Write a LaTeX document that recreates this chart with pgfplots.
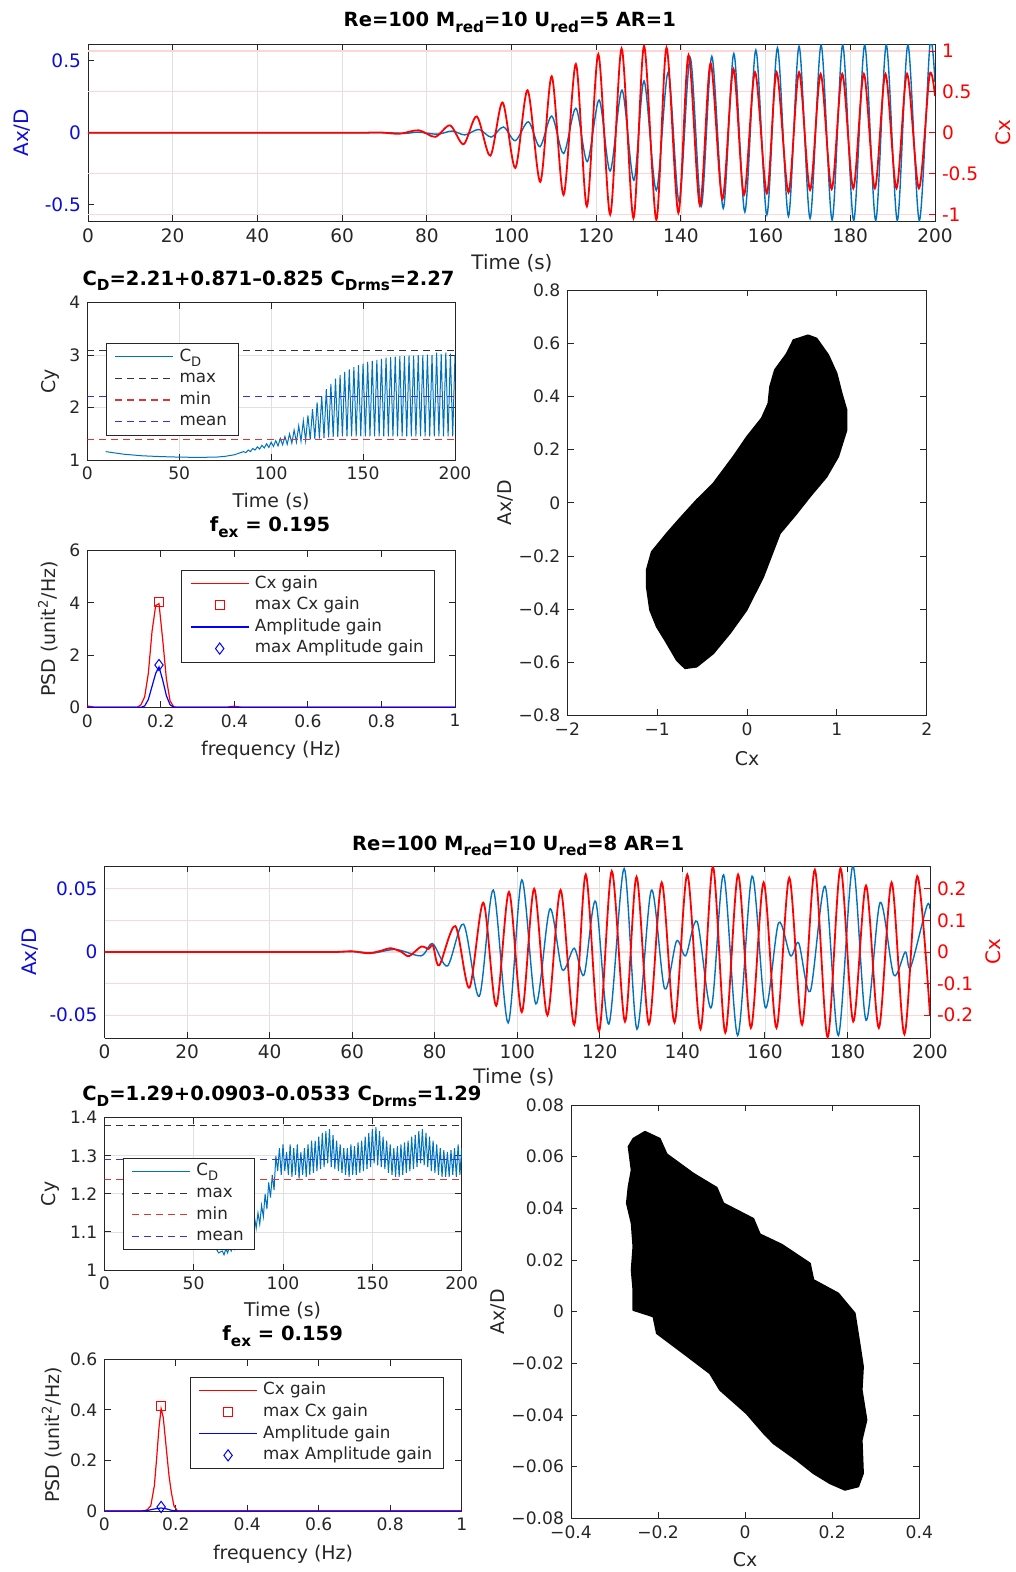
\documentclass[border=0pt]{standalone}
\usepackage{fontspec}
\setmainfont{DejaVu Sans}
\usepackage{graphicx}
\usepackage{pgfplots}
\pgfplotsset{compat=1.18}
\definecolor{mblue}{rgb}{0,0.447,0.741}
\definecolor{axgray}{rgb}{0.15,0.15,0.15}
\definecolor{lblue}{rgb}{0.05,0.05,0.85}
\definecolor{dred}{rgb}{0.9,0.2,0.2}
\definecolor{dblue}{rgb}{0.2,0.2,0.9}
\definecolor{dblack}{rgb}{0.2,0.2,0.2}
\newcommand{\msub}[1]{\raisebox{-0.55ex}{\scalebox{0.78}{#1}}}
\pgfplotsset{
  base/.style={scale only axis, anchor=south west,
    axis line style={axgray, line width=0.45bp},
    tick style={axgray, line width=0.45bp},
    major tick length=3.2bp, tick align=inside,
    scaled ticks=false,
    every axis title shift=0pt,
    /pgf/number format/assume math mode=true,
    legend cell align=left},
  topax/.style={base,
    tick label style={font=\fontsize{9.3}{10}\selectfont, text=axgray},
    label style={font=\fontsize{10}{11}\selectfont},
    title style={font=\bfseries\fontsize{9.8}{11}\selectfont, anchor=base}},
  low/.style={base,
    tick label style={font=\fontsize{8.6}{9}\selectfont, text=axgray},
    label style={font=\fontsize{9.5}{10}\selectfont, text=axgray},
    title style={font=\bfseries\fontsize{9.8}{11}\selectfont, anchor=base},
    legend style={draw=axgray, line width=0.4bp, fill=white,
      font=\fontsize{8.4}{9}\selectfont, inner xsep=4.2bp, inner ysep=1.3bp,
      column sep=1.5bp,
      nodes={inner sep=1.25bp, text height=6.3bp, text depth=2bp, text=axgray}}},
  lline/.style={legend image code/.code={\draw[##1] (0bp,0bp) -- (29bp,0bp);}},
  lmark/.style={legend image code/.code={\draw[##1] plot coordinates {(14.5bp,0bp)};}},
}
\begin{document}
\begin{tikzpicture}
\path[use as bounding box] (0bp,0bp) rectangle (508bp,-786bp);

%================ BLOCK 1 =================
\begin{axis}[topax, at={(44bp,-110.75bp)}, width=423.5bp, height=88.75bp,
  xmin=0, xmax=200, ymin=-0.616, ymax=0.616, axis y line*=left,
  xtick={0,20,...,200}, ytick={-0.5,0,0.5}, yticklabels={-0.5,0,0.5},
  xmajorgrids, x grid style={black!12, line width=0.4bp},
  extra y ticks={-0.5677,-0.2839,0,0.2839,0.5677}, extra y tick labels={},
  extra y tick style={grid=major, major grid style={red!16, line width=0.6bp}, major tick length=0pt},
  yticklabel style={text=lblue},
  xlabel={Time (s)}, ylabel={Ax/D},
  xlabel style={at={(axis description cs:0.5006,-0.234)}, anchor=center, text=axgray},
  ylabel style={at={(axis description cs:-0.078,0.5)}, anchor=center, text=lblue},
  title={Re=100 M\msub{red}=10 U\msub{red}=5 AR=1},
  title style={at={(axis description cs:0.498,1.0975)}, anchor=base}]
\addplot[mblue, line width=0.7bp, smooth] coordinates {
(0,0) (20,0) (40,0) (60,0) (70,0) (75,-0.004) (78,0.004) (82.5,-0.01) (86,0.012) (89,-0.015)
(92.3,0.023) (95.2,-0.03) (98.1,0.04) (100.9,-0.055) (104,0.076) (106.7,-0.097) (109.5,0.116)
(112.3,-0.144) (115.2,0.17) (117.9,-0.2) (120.7,0.227) (123.3,-0.266) (126.1,0.296) (128.9,-0.33)
(131.3,0.36) (134.2,-0.4) (137,0.42) (139.6,-0.48) (142.2,0.52) (144.8,-0.51) (147.3,0.53)
(150,-0.525) (152.5,0.55) (155.1,-0.55) (157.7,0.574) (160.3,-0.57) (162.8,0.59) (165.4,-0.58)
(167.9,0.6) (170.5,-0.595) (173.1,0.61) (175.7,-0.606) (178.2,0.61) (180.8,-0.61) (183.4,0.61)
(186,-0.61) (188.5,0.61) (191.1,-0.61) (193.6,0.61) (196.3,-0.61) (198.8,0.61) (200,0.35)};
\end{axis}
\begin{axis}[topax, at={(44bp,-110.75bp)}, width=423.5bp, height=88.75bp,
  xmin=0, xmax=200, ymin=-1.085, ymax=1.085, axis y line*=right, axis x line=none,
  ytick={-1,-0.5,0,0.5,1}, yticklabels={-1,-0.5,0,0.5,1},
  tick style={red}, yticklabel style={text=red},
  ylabel={Cx}, ylabel style={at={(axis description cs:1.0803,0.5)}, anchor=center, text=red}]
\addplot[red, line width=0.9bp, smooth] coordinates {
(0,0) (20,0) (40,0) (60,0) (65,0) (69,0.004) (73.5,-0.012) (78.1,0.03) (82,-0.05) (85.5,0.09)
(88.7,-0.14) (91.8,0.2) (95,-0.28) (97.9,0.37) (100.9,-0.43) (103.8,0.52) (106.8,-0.6) (109.5,0.69)
(112.3,-0.76) (115.2,0.84) (117.8,-0.9) (120.5,0.96) (123.3,-1.0) (126,1.03) (128.8,-1.045)
(131.3,1.06) (134.2,-1.065) (136.6,1.04) (139.4,-0.98) (141.8,0.95) (144.5,-0.89) (147,0.85)
(149.8,-0.81) (152.4,0.78) (154.9,-0.76) (157.5,0.74) (160.3,-0.74) (162.6,0.74) (165.4,-0.73)
(167.9,0.74) (170.5,-0.7) (173,0.72) (175.6,-0.69) (178.1,0.72) (180.7,-0.68) (183.2,0.72)
(185.8,-0.68) (188.3,0.72) (190.9,-0.68) (193.4,0.72) (196.2,-0.68) (198.7,0.7) (200,0.45)};
\end{axis}

% CD block 1
\begin{axis}[low, at={(43.65bp,-230bp)}, width=183.85bp, height=78.65bp,
  xmin=0, xmax=200, ymin=1, ymax=4, xtick={0,50,100,150,200}, ytick={1,2,3,4},
  grid=major, grid style={black!12, line width=0.4bp},
  xlabel={Time (s)}, ylabel={Cy},
  xlabel style={at={(axis description cs:0.5,-0.265)}, anchor=center},
  ylabel style={at={(axis description cs:-0.101,0.5)}, anchor=center},
  title={C\msub{D}=2.21+0.871–0.825 C\msub{Drms}=2.27},
  title style={at={(axis description cs:0.493,1.1125)}, anchor=base},
  legend style={at={(0.051,0.744)}, anchor=north west}]
\addplot[mblue, line width=0.5bp, lline] coordinates {
(10,1.16) (20,1.11) (30,1.08) (40,1.065) (50,1.055) (60,1.05) (70,1.055) (75,1.07) (80,1.1)
(85,1.16) (86.25,1.14) (87.5,1.19) (88.75,1.16) (90,1.22) (91.25,1.19) (92.5,1.25) (93.75,1.21)
(95,1.28) (96.25,1.23) (97.5,1.31) (98.75,1.24) (100,1.34) (101.25,1.26) (102.5,1.37) (103.75,1.27)
(105,1.41) (106.25,1.29) (107.5,1.45) (108.75,1.30) (110,1.50) (111.25,1.32) (112.5,1.57) (113.75,1.34)
(115,1.65) (116.25,1.36) (117.5,1.75) (118.75,1.37) (120,1.85) (121.25,1.39) (122.5,1.97) (123.75,1.40)
(125,2.10) (126.25,1.41) (127.5,2.22) (128.75,1.42) (130,2.35) (131.25,1.43) (132.5,2.45) (133.75,1.44)
(135,2.55) (136.25,1.44) (137.5,2.62) (138.75,1.45) (140,2.68) (141.25,1.45) (142.5,2.73) (143.75,1.45)
(145,2.77) (146.25,1.45) (147.5,2.81) (148.75,1.45) (150,2.84) (151.25,1.45) (152.5,2.87) (153.75,1.45)
(155,2.89) (156.25,1.45) (157.5,2.91) (158.75,1.45) (160,2.93) (161.25,1.45) (162.5,2.95) (163.75,1.45)
(165,2.96) (166.25,1.45) (167.5,2.97) (168.75,1.45) (170,2.98) (171.25,1.45) (172.5,2.98) (173.75,1.45)
(175,2.99) (176.25,1.45) (177.5,2.99) (178.75,1.45) (180,3.00) (181.25,1.45) (182.5,3.00) (183.75,1.45)
(185,3.01) (186.25,1.45) (187.5,3.00) (188.75,1.45) (190,3.05) (191.25,1.45) (192.5,3.02) (193.75,1.45)
(195,3.05) (196.25,1.45) (197.5,3.03) (198.75,1.45) (200,3.0)};
\addlegendentry{C\msub{D}}
\addplot[dblack, line width=0.6bp, dash pattern=on 3.5bp off 2.5bp, lline] coordinates {(0,3.081) (200,3.081)};
\addlegendentry{max}
\addplot[dred, line width=0.6bp, dash pattern=on 3.5bp off 2.5bp, lline] coordinates {(0,1.385) (200,1.385)};
\addlegendentry{min}
\addplot[dblue, line width=0.6bp, dash pattern=on 3.5bp off 2.5bp, lline] coordinates {(0,2.21) (200,2.21)};
\addlegendentry{mean}
\end{axis}

% PSD block 1
\begin{axis}[low, at={(43.65bp,-353.65bp)}, width=183.85bp, height=78.3bp,
  xmin=0, xmax=1, ymin=0, ymax=6, xtick={0,0.2,0.4,0.6,0.8,1}, ytick={0,2,4,6},
  xlabel={frequency (Hz)}, ylabel={PSD (unit\textsuperscript{2}/Hz)},
  xlabel style={at={(axis description cs:0.5,-0.277)}, anchor=center},
  ylabel style={at={(axis description cs:-0.107,0.5)}, anchor=center},
  title={f\msub{ex} = 0.195},
  title style={at={(axis description cs:0.497,1.121)}, anchor=base},
  legend style={at={(0.946,0.877)}, anchor=north east}]
\addplot[red, line width=0.6bp, lline] coordinates {
(0,0.05) (0.01,0.03) (0.02,0) (0.136,0) (0.146,0.1) (0.156,0.4) (0.166,1.3) (0.176,2.9) (0.186,3.9)
(0.195,3.97) (0.205,2.6) (0.215,1.1) (0.225,0.25) (0.235,0.02) (0.245,0) (0.38,0) (0.39,0.03)
(0.4,0.04) (0.41,0.02) (0.42,0) (1,0)};
\addlegendentry{Cx gain}
\addplot[red, only marks, mark=square, mark size=2.3bp, line width=0.5bp, lmark] coordinates {(0.195,4.03)};
\addlegendentry{max Cx gain}
\addplot[blue, line width=0.6bp, lline] coordinates {
(0,0.01) (0.02,0) (0.146,0) (0.156,0.05) (0.166,0.3) (0.176,0.8) (0.186,1.3) (0.195,1.55)
(0.205,1.05) (0.215,0.45) (0.225,0.1) (0.235,0) (1,0)};
\addlegendentry{Amplitude gain}
\addplot[blue, only marks, mark=diamond, mark size=2.8bp, line width=0.5bp, lmark] coordinates {(0.195,1.62)};
\addlegendentry{max Amplitude gain}
\end{axis}

% scatter block 1
\begin{axis}[low, at={(283.65bp,-357.85bp)}, width=179.7bp, height=212.85bp,
  xmin=-2, xmax=2, ymin=-0.8, ymax=0.8,
  xtick={-2,-1,0,1,2}, xticklabels={−2,−1,0,1,2},
  ytick={-0.8,-0.6,-0.4,-0.2,0,0.2,0.4,0.6,0.8},
  yticklabels={−0.8,−0.6,−0.4,−0.2,0,0.2,0.4,0.6,0.8},
  xlabel={Cx}, ylabel={Ax/D},
  xlabel style={at={(axis description cs:0.5,-0.1)}, anchor=center},
  ylabel style={at={(axis description cs:-0.173,0.5)}, anchor=center}]
\addplot[fill=black, draw=black, line width=0.8bp, line join=round] coordinates {
(0.68,0.63) (0.516,0.612) (0.44,0.56) (0.31,0.5) (0.256,0.437) (0.237,0.374) (0.163,0.318) (0,0.249)
(-0.152,0.174) (-0.375,0.073) (-0.56,0.011) (-0.746,-0.058) (-0.894,-0.115) (-1.061,-0.184)
(-1.117,-0.252) (-1.117,-0.315) (-1.08,-0.403) (-1.006,-0.465) (-0.913,-0.516) (-0.783,-0.591)
(-0.69,-0.622) (-0.56,-0.616) (-0.375,-0.566) (-0.189,-0.49) (-0.004,-0.403) (0.182,-0.278)
(0.367,-0.115) (0.553,-0.04) (0.7,0.023) (0.886,0.098) (1.016,0.174) (1.109,0.274) (1.109,0.349)
(1.054,0.412) (0.998,0.487) (0.905,0.556) (0.775,0.618) (0.68,0.63)};
\end{axis}

%================ BLOCK 2 =================
\begin{axis}[topax, at={(52.25bp,-519bp)}, width=412.75bp, height=86bp,
  xmin=0, xmax=200, ymin=-0.068, ymax=0.068, axis y line*=left,
  xtick={0,20,...,200}, ytick={-0.05,0,0.05}, yticklabels={-0.05,0,0.05},
  xmajorgrids, x grid style={black!12, line width=0.4bp},
  extra y ticks={-0.05,-0.025,0,0.025,0.05}, extra y tick labels={},
  extra y tick style={grid=major, major grid style={red!16, line width=0.6bp}, major tick length=0pt},
  yticklabel style={text=lblue},
  xlabel={Time (s)}, ylabel={Ax/D},
  xlabel style={at={(axis description cs:0.496,-0.227)}, anchor=center, text=axgray},
  ylabel style={at={(axis description cs:-0.0902,0.5)}, anchor=center, text=lblue},
  title={Re=100 M\msub{red}=10 U\msub{red}=8 AR=1},
  title style={at={(axis description cs:0.501,1.093)}, anchor=base}]
\addplot[mblue, line width=0.7bp, smooth] coordinates {
(0,0) (20,0) (40,0) (55,0) (60,0.0005) (65,-0.0008) (70.6,0.002) (76.7,-0.003) (79.5,0.0066)
(83.1,-0.011) (87,0.022) (90.8,-0.035) (94.2,0.049) (97.8,-0.056) (101.1,0.057) (104.5,-0.041)
(107.9,0.034) (110.9,-0.014) (113.8,0.003) (116.2,-0.018) (119,0.04) (122.2,-0.057) (125.9,0.066)
(129,-0.061) (132.5,0.049) (135.7,-0.029) (138.6,0.0087) (140.8,-0.003) (143.6,0.024) (147,-0.044)
(150,0.061) (153.4,-0.066) (156.9,0.06) (160.1,-0.044) (163.3,0.023) (166.2,-0.003) (168.2,0.007)
(171,-0.031) (174.6,0.052) (177.8,-0.066) (181.3,0.068) (184.5,-0.054) (187.9,0.039) (191.2,-0.018)
(194,0) (195.3,-0.012) (199.2,0.036) (200,0.034)};
\end{axis}
\begin{axis}[topax, at={(52.25bp,-519bp)}, width=412.75bp, height=86bp,
  xmin=0, xmax=200, ymin=-0.272, ymax=0.272, axis y line*=right, axis x line=none,
  ytick={-0.2,-0.1,0,0.1,0.2}, yticklabels={-0.2,-0.1,0,0.1,0.2},
  tick style={red}, yticklabel style={text=red},
  ylabel={Cx}, ylabel style={at={(axis description cs:1.0763,0.5)}, anchor=center, text=red}]
\addplot[red, line width=0.9bp, smooth] coordinates {
(0,0) (20,0) (40,0) (55,0) (60,0.002) (64,-0.004) (67,0.004) (69.4,0.012) (72,0) (73.8,-0.013)
(76.7,0.017) (78.5,0.01) (79.6,0.02) (81.1,-0.042) (85,0.082) (88.4,-0.113) (91.8,0.156) (94.9,-0.17)
(98,0.19) (101.1,-0.19) (104.1,0.2) (107.3,-0.2) (110.5,0.196) (113.8,-0.23) (116.6,0.245) (119.8,-0.25)
(122.9,0.256) (126.1,-0.22) (128.9,0.238) (131.9,-0.228) (135,0.22) (138.1,-0.223) (141.2,0.245)
(144.4,-0.244) (147.4,0.27) (150.4,-0.255) (153.5,0.245) (156.6,-0.24) (159.7,0.22) (162.8,-0.24)
(165.9,0.235) (169,-0.23) (172.1,0.26) (175.2,-0.27) (178.3,0.265) (181.4,-0.22) (184.5,0.21)
(187.6,-0.24) (190.7,0.22) (193.8,-0.26) (196.9,0.24) (200,-0.2)};
\end{axis}

% CD block 2
\begin{axis}[low, at={(52.15bp,-635bp)}, width=178.7bp, height=76.15bp,
  xmin=0, xmax=200, ymin=1, ymax=1.4, xtick={0,50,100,150,200}, ytick={1,1.1,1.2,1.3,1.4},
  grid=major, grid style={black!12, line width=0.4bp},
  xlabel={Time (s)}, ylabel={Cy},
  xlabel style={at={(axis description cs:0.499,-0.267)}, anchor=center},
  ylabel style={at={(axis description cs:-0.151,0.5)}, anchor=center},
  title={C\msub{D}=1.29+0.0903–0.0533 C\msub{Drms}=1.29},
  title style={at={(axis description cs:0.497,1.112)}, anchor=base},
  legend style={at={(0.052,0.737)}, anchor=north west}]
\addplot[mblue, line width=0.5bp, lline] coordinates {
(10,1.2) (20,1.18) (30,1.15) (40,1.12) (50,1.1) (58,1.08) (62,1.06) (64,1.045) (66,1.05) (67,1.04)
(68,1.055) (69,1.045) (70,1.06) (71,1.05) (72,1.07) (73,1.055) (74,1.075) (75,1.06) (76,1.085) (77,1.07)
(78,1.1) (79,1.08) (80,1.11) (81,1.09) (82,1.13) (83,1.1) (84,1.14) (85,1.11) (86,1.15) (87,1.12)
(88,1.17) (89,1.14) (90,1.2) (91,1.16) (92,1.23) (93,1.19) (94,1.25) (95,1.21) (96,1.3) (97,1.26)
(98,1.32) (99,1.25) (100,1.33) (101,1.26) (102,1.31) (103,1.25) (104,1.33) (105,1.245) (106,1.32)
(107,1.25) (108,1.33) (109,1.24) (110,1.31) (111,1.25) (112,1.32) (113,1.245) (114,1.33) (115,1.25)
(116,1.34) (117,1.255) (118,1.34) (119,1.26) (120,1.35) (121,1.265) (122,1.36) (123,1.27) (124,1.365)
(125,1.28) (126,1.37) (127,1.27) (128,1.355) (129,1.265) (130,1.34) (131,1.26) (132,1.33) (133,1.255)
(134,1.32) (135,1.25) (136,1.32) (137,1.245) (138,1.33) (139,1.25) (140,1.325) (141,1.25) (142,1.335)
(143,1.255) (144,1.34) (145,1.26) (146,1.35) (147,1.265) (148,1.36) (149,1.27) (150,1.37) (151,1.28)
(152,1.375) (153,1.275) (154,1.365) (155,1.27) (156,1.35) (157,1.265) (158,1.34) (159,1.255) (160,1.33)
(161,1.25) (162,1.32) (163,1.245) (164,1.325) (165,1.245) (166,1.33) (167,1.25) (168,1.335) (169,1.255)
(170,1.34) (171,1.26) (172,1.35) (173,1.265) (174,1.355) (175,1.27) (176,1.365) (177,1.28) (178,1.37)
(179,1.275) (180,1.36) (181,1.27) (182,1.35) (183,1.26) (184,1.34) (185,1.255) (186,1.33) (187,1.25)
(188,1.32) (189,1.245) (190,1.315) (191,1.245) (192,1.31) (193,1.245) (194,1.315) (195,1.25) (196,1.32)
(197,1.245) (198,1.33) (199,1.25) (200,1.32)};
\addlegendentry{C\msub{D}}
\addplot[dblack, line width=0.6bp, dash pattern=on 3.5bp off 2.5bp, lline] coordinates {(0,1.3803) (200,1.3803)};
\addlegendentry{max}
\addplot[dred, line width=0.6bp, dash pattern=on 3.5bp off 2.5bp, lline] coordinates {(0,1.2367) (200,1.2367)};
\addlegendentry{min}
\addplot[dblue, line width=0.6bp, dash pattern=on 3.5bp off 2.5bp, lline] coordinates {(0,1.29) (200,1.29)};
\addlegendentry{mean}
\end{axis}

% PSD block 2
\begin{axis}[low, at={(52.15bp,-755.5bp)}, width=178.7bp, height=75.85bp,
  xmin=0, xmax=1, ymin=0, ymax=0.6, xtick={0,0.2,0.4,0.6,0.8,1}, ytick={0,0.2,0.4,0.6},
  xlabel={frequency (Hz)}, ylabel={PSD (unit\textsuperscript{2}/Hz)},
  xlabel style={at={(axis description cs:0.5,-0.283)}, anchor=center},
  ylabel style={at={(axis description cs:-0.147,0.5)}, anchor=center},
  title={f\msub{ex} = 0.159},
  title style={at={(axis description cs:0.499,1.123)}, anchor=base},
  legend style={at={(0.949,0.885)}, anchor=north east}]
\addplot[red, line width=0.6bp, lline] coordinates {
(0,0) (0.11,0) (0.12,0.005) (0.13,0.02) (0.14,0.1) (0.146,0.2) (0.153,0.33) (0.159,0.405) (0.165,0.37)
(0.174,0.24) (0.181,0.14) (0.188,0.07) (0.195,0.02) (0.205,0) (1,0)};
\addlegendentry{Cx gain}
\addplot[red, only marks, mark=square, mark size=2.3bp, line width=0.5bp, lmark] coordinates {(0.159,0.415)};
\addlegendentry{max Cx gain}
\addplot[blue, line width=0.6bp, lline] coordinates {
(0,0) (0.1,0) (0.12,0.002) (0.14,0.008) (0.159,0.012) (0.175,0.008) (0.19,0.002) (0.21,0) (1,0)};
\addlegendentry{Amplitude gain}
\addplot[blue, only marks, mark=diamond, mark size=2.8bp, line width=0.5bp, lmark] coordinates {(0.159,0.016)};
\addlegendentry{max Amplitude gain}
\end{axis}

% scatter block 2
\begin{axis}[low, at={(285.5bp,-759.15bp)}, width=174.15bp, height=206.65bp,
  xmin=-0.4, xmax=0.4, ymin=-0.08, ymax=0.08,
  xtick={-0.4,-0.2,0,0.2,0.4}, xticklabels={−0.4,−0.2,0,0.2,0.4},
  ytick={-0.08,-0.06,-0.04,-0.02,0,0.02,0.04,0.06,0.08},
  yticklabels={−0.08,−0.06,−0.04,−0.02,0,0.02,0.04,0.06,0.08},
  xlabel={Cx}, ylabel={Ax/D},
  xlabel style={at={(axis description cs:0.5,-0.101)}, anchor=center},
  ylabel style={at={(axis description cs:-0.209,0.5)}, anchor=center}]
\addplot[fill=black, draw=black, line width=0.8bp, line join=round] coordinates {
(-0.23,0.0697) (-0.196,0.067) (-0.18,0.061) (-0.119,0.0535) (-0.065,0.048) (-0.05,0.042) (0.019,0.036)
(0.034,0.030) (0.084,0.026) (0.149,0.0187) (0.157,0.0123) (0.214,0.0071) (0.252,-0.0006) (0.264,-0.0135)
(0.271,-0.0213) (0.268,-0.0303) (0.279,-0.0419) (0.268,-0.0497) (0.271,-0.0626) (0.26,-0.0677)
(0.229,-0.069) (0.195,-0.0665) (0.157,-0.0626) (0.118,-0.0574) (0.065,-0.051) (0.042,-0.047)
(0.003,-0.0394) (-0.058,-0.0303) (-0.081,-0.0239) (-0.142,-0.0161) (-0.203,-0.0084) (-0.211,-0.0019)
(-0.257,0.0006) (-0.257,0.0084) (-0.261,0.0161) (-0.257,0.0252) (-0.261,0.0342) (-0.272,0.042)
(-0.268,0.0484) (-0.261,0.0548) (-0.268,0.0639) (-0.257,0.067) (-0.23,0.0697)};
\end{axis}
\end{tikzpicture}
\end{document}
